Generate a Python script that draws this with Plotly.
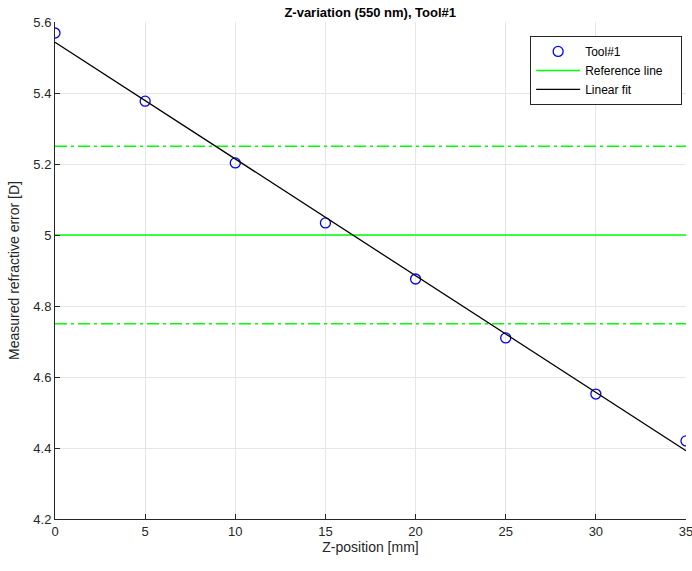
import numpy as np
import plotly.graph_objects as go

z_pos = [0, 5, 10, 15, 20, 25, 30, 35]
measured = [5.569, 5.377, 5.203, 5.034, 4.876, 4.710, 4.552, 4.420]
ref_value = 5.0
tol_upper = 5.25
tol_lower = 4.75
x_ticks = [0, 5, 10, 15, 20, 25, 30, 35]
y_ticks = [4.2, 4.4, 4.6, 4.8, 5.0, 5.2, 5.4, 5.6]
y_tick_text = ["4.2", "4.4", "4.6", "4.8", "5", "5.2", "5.4", "5.6"]
legend_names = ["Tool#1", "Reference line", "Linear fit"]

slope, intercept = np.polyfit(z_pos, measured, 1)
fit_x = [z_pos[0], z_pos[-1]]
fit_y = [intercept + slope * x for x in fit_x]

font = "Liberation Sans, Arial, Helvetica, sans-serif"
green = "#00ff00"
dashdot = "12px,4px,3px,4px"
pad = "\u00a0" * 4

fig = go.Figure()
fig.add_trace(go.Scatter(
    x=z_pos, y=measured, mode="markers", name=legend_names[0],
    marker=dict(symbol="circle-open", size=10, color="#0000ff", line=dict(width=1.3, color="#0000ff")),
))
fig.add_trace(go.Scatter(
    x=[0, 35], y=[ref_value, ref_value], mode="lines", name=legend_names[1] + pad,
    line=dict(color=green, width=1.5),
))
fig.add_trace(go.Scatter(
    x=[0, 35], y=[tol_upper, tol_upper], mode="lines", showlegend=False,
    line=dict(color=green, width=1.5, dash=dashdot),
))
fig.add_trace(go.Scatter(
    x=[0, 35], y=[tol_lower, tol_lower], mode="lines", showlegend=False,
    line=dict(color=green, width=1.5, dash=dashdot),
))
fig.add_trace(go.Scatter(
    x=fit_x, y=fit_y, mode="lines", name=legend_names[2],
    line=dict(color="#000000", width=1.3),
))

axis_common = dict(
    showgrid=True, gridcolor="#e6e6e6", gridwidth=1,
    showline=True, linecolor="#262626", linewidth=1,
    ticks="inside", ticklen=5, tickcolor="#262626",
    tickfont=dict(family=font, size=13, color="#262626"),
    zeroline=False, mirror=False, ticklabeloverflow="allow",
    automargin=False,
)

fig.update_layout(
    width=692, height=571,
    margin=dict(l=55, r=6, t=22, b=52),
    paper_bgcolor="white", plot_bgcolor="white",
    title=dict(text="<b>Z-variation (550 nm), Tool#1</b>", x=0.535, xanchor="center",
               y=0.987, yanchor="top",
               font=dict(family=font, size=13, color="#000000")),
    xaxis=dict(range=[0, 35], tickvals=x_ticks,
               title=dict(text="Z-position [mm]", font=dict(family=font, size=14, color="#262626"), standoff=4),
               **axis_common),
    yaxis=dict(range=[4.2, 5.6], tickvals=y_ticks, ticktext=y_tick_text,
               title=dict(text="Measured refractive error [D]", font=dict(family=font, size=14, color="#262626"), standoff=10),
               **axis_common),
    legend=dict(x=0.753, y=0.972, xanchor="left", yanchor="top",
                bgcolor="white", bordercolor="#262626", borderwidth=1,
                font=dict(family=font, size=12, color="#000000"),
                tracegroupgap=0, itemwidth=44),
    showlegend=True,
)

fig.write_html("out.html")
